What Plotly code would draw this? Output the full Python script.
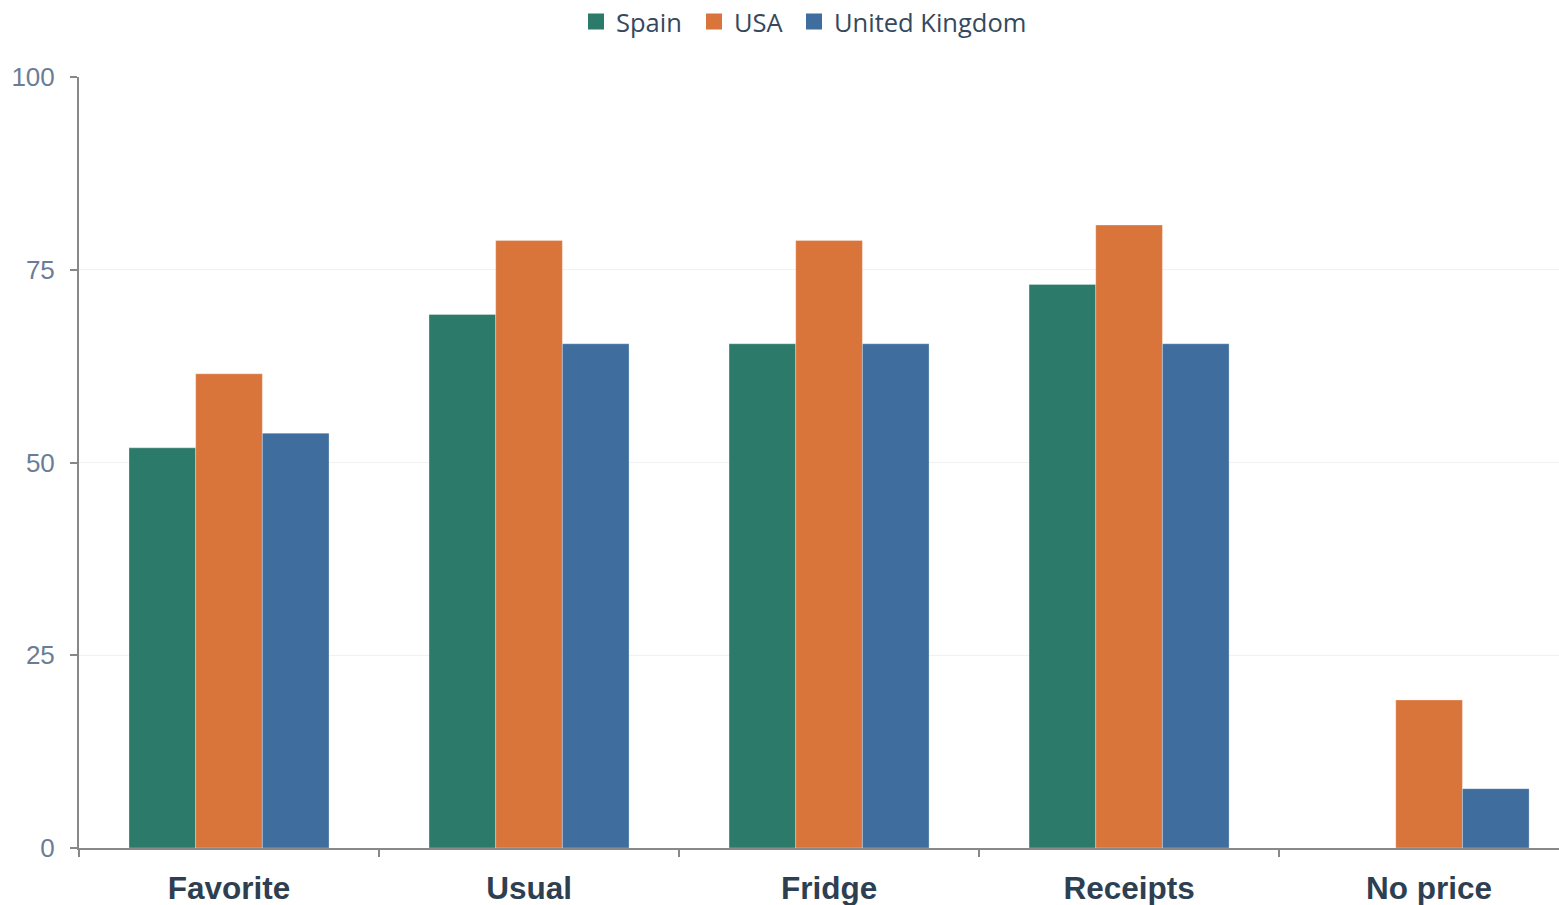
import plotly.graph_objects as go

categories = ["Favorite", "Usual", "Fridge", "Receipts", "No price"]
spain = [51.9, 69.2, 65.4, 73.1, 0]
usa = [61.5, 78.8, 78.8, 80.8, 19.2]
uk = [53.8, 65.4, 65.4, 65.4, 7.7]
y_ticks = [0, 25, 50, 75, 100]

series = [("Spain", spain, "#2b7a6a"), ("USA", usa, "#d9743b"), ("United Kingdom", uk, "#3e6d9e")]
legend_ids = ["legend", "legend2", "legend3"]
legend_x_px = [576, 694, 794]

fig = go.Figure()
for name, vals, col in series:
    fig.add_trace(go.Bar(name=name, x=categories, y=vals, showlegend=False, legendgroup=name,
                         marker=dict(color=col, line=dict(color="rgba(255,255,255,0.6)", width=0.5))))
for (name, vals, col), lid in zip(series, legend_ids):
    fig.add_trace(go.Scatter(name=name, x=[None], y=[None], mode="markers", legendgroup=name,
                             legend=lid, marker=dict(symbol="square", size=18, color=col)))

legend_common = dict(orientation="h", xanchor="left", y=1 - 22/905, yanchor="middle",
                     yref="container", xref="container",
                     font=dict(family="Open Sans", size=25.5, color="#34495e"),
                     itemwidth=30, bgcolor="rgba(0,0,0,0)")
legends = {lid: dict(legend_common, x=px / 1559) for lid, px in zip(legend_ids, legend_x_px)}

fig.update_layout(
    width=1559, height=905,
    barmode="group", bargap=1/3, bargroupgap=0,
    plot_bgcolor="white", paper_bgcolor="white",
    margin=dict(l=79, r=0, t=77, b=57),
    xaxis=dict(type="category", range=[-0.5, 4.433], tickson="boundaries", ticks="outside", ticklen=7, tickwidth=2,
               tickcolor="#888888", showline=True, linecolor="#888888", linewidth=2,
               showgrid=False, tickfont=dict(family="Liberation Sans", size=31.5, color="#2e3f52", weight="bold"),
               ticklabelstandoff=11),
    yaxis=dict(range=[0, 100], tickvals=y_ticks, ticks="outside", ticklen=7, tickwidth=2,
               tickcolor="#888888", showline=True, linecolor="#888888", linewidth=2,
               showgrid=True, gridcolor="#f0f1f5", gridwidth=1, zeroline=False,
               tickfont=dict(family="Liberation Sans", size=26, color="#6b7d96"),
               ticklabelstandoff=10),
    **legends,
)
fig.write_html("out.html")
